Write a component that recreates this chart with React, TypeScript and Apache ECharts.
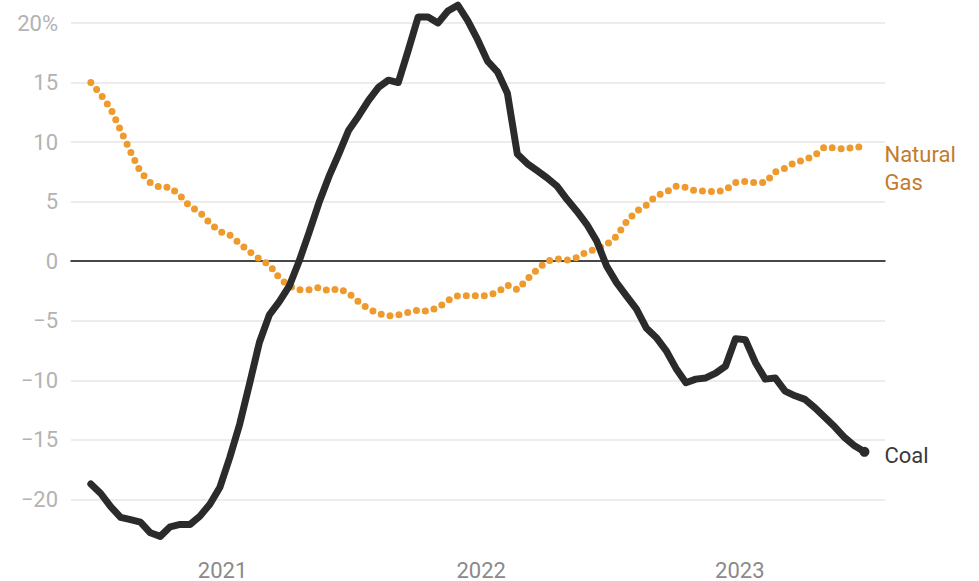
import React, { useEffect, useRef } from "react";
import * as echarts from "echarts";

// Biweekly observations starting 2020-06-29
const startDate = "2020-06-29";
const stepDays = 14;

const coalValues = [
  -18.7, -19.5, -20.6, -21.5, -21.7, -21.9, -22.8, -23.1, -22.3, -22.1,
  -22.1, -21.4, -20.4, -19.0, -16.5, -13.7, -10.3, -6.8, -4.5, -3.4,
  -2.1, 0.0, 2.4, 4.9, 7.1, 9.0, 11.0, 12.2, 13.5, 14.6,
  15.2, 15.0, 17.7, 20.5, 20.5, 20.0, 21.0, 21.5, 20.2, 18.6,
  16.8, 15.9, 14.1, 9.0, 8.2, 7.6, 7.0, 6.3, 5.2, 4.2,
  3.1, 1.7, -0.4, -1.8, -2.9, -4.0, -5.6, -6.4, -7.5, -9.0,
  -10.2, -9.9, -9.8, -9.4, -8.8, -6.5, -6.6, -8.5, -9.9, -9.8,
  -10.9, -11.3, -11.6, -12.3, -13.1, -13.9, -14.8, -15.5, -16.0,
];

const gasValues = [
  15.0, 14.0, 12.8, 11.0, 9.2, 7.5, 6.6, 6.2, 6.2, 5.5,
  4.6, 4.1, 3.2, 2.5, 2.2, 1.5, 0.8, 0.2, -0.3, -1.4,
  -2.1, -2.4, -2.4, -2.2, -2.5, -2.3, -2.7, -3.4, -4.0, -4.4,
  -4.6, -4.5, -4.3, -4.1, -4.2, -3.9, -3.3, -2.9, -2.9, -2.9,
  -2.9, -2.6, -2.0, -2.4, -1.5, -0.7, 0.0, 0.2, 0.1, 0.3,
  0.8, 1.0, 1.4, 2.1, 3.3, 4.2, 4.7, 5.5, 5.8, 6.3,
  6.2, 5.9, 5.9, 5.8, 6.0, 6.6, 6.7, 6.6, 6.6, 7.5,
  7.8, 8.3, 8.5, 8.9, 9.6, 9.5, 9.4, 9.6, 9.6,
];

const yearTicks = [2021, 2022, 2023];
const yTicks = [-20, -15, -10, -5, 0, 5, 10, 15, 20];

const FONT = "Roboto, 'Noto Sans', sans-serif";

function buildDates(n: number): number[] {
  const [y, m, d] = startDate.split("-").map(Number);
  const out: number[] = [];
  for (let i = 0; i < n; i++) {
    out.push(new Date(y, m - 1, d + i * stepDays).getTime());
  }
  return out;
}

export default function App() {
  const ref = useRef<HTMLDivElement>(null);

  useEffect(() => {
    if (!ref.current) return;
    const chart = echarts.init(ref.current, null, { renderer: "svg" });
    const dates = buildDates(coalValues.length);
    const coalData = coalValues.map((v, i) =>
      i === coalValues.length - 1
        ? { value: [dates[i], v], symbol: "circle", symbolSize: 10 }
        : { value: [dates[i], v] }
    );
    const gasData = gasValues.map((v, i) => [dates[i], v]);

    chart.setOption({
      animation: false,
      textStyle: { fontFamily: FONT },
      grid: { left: 71, right: 94, top: 23, bottom: 20, containLabel: false },
      xAxis: {
        type: "value",
        min: new Date(2020, 5, 1).getTime(),
        max: new Date(2023, 6, 25).getTime(),
        axisLine: { show: true, onZero: true, lineStyle: { color: "#111", width: 1.5 } },
        axisTick: { show: false },
        splitLine: { show: false },
        axisLabel: {
          customValues: yearTicks.map((y) => new Date(y, 0, 1).getTime()),
          formatter: (v: number) => String(new Date(v).getFullYear()),
          color: "#8a8a8a",
          fontSize: 22,
          fontFamily: FONT,
          margin: 0,
          hideOverlap: false,
        },
      },
      yAxis: {
        type: "value",
        min: -25,
        max: 20,
        interval: 5,
        axisLine: { show: false },
        axisTick: { show: false },
        splitLine: {
          show: true,
          showMinLine: false,
          lineStyle: { color: "#e6e6e6", width: 1.5 },
        },
        axisLabel: {
          customValues: yTicks,
          margin: 13,
          color: "#b3b3b3",
          fontSize: 22,
          fontFamily: FONT,
          formatter: (v: number) =>
            v === 20 ? "20%" : v < 0 ? "\u2212" + Math.abs(v) : String(v),
        },
      },
      series: [
        {
          name: "Natural Gas",
          type: "line",
          data: gasData,
          symbol: "none",
          showSymbol: false,
          clip: false,
          z: 3,
          lineStyle: {
            color: "#ee9a2d",
            width: 7,
            type: [0, 9],
            cap: "round",
            join: "round",
          },
          endLabel: {
            show: true,
            formatter: "Natural\nGas",
            color: "#c47b2d",
            fontSize: 22,
            fontFamily: FONT,
            lineHeight: 28,
            distance: 20,
            offset: [0, 22],
          },
        },
        {
          name: "Coal",
          type: "line",
          data: coalData,
          symbol: "none",
          showSymbol: true,
          clip: false,
          z: 4,
          itemStyle: { color: "#2b2b2b" },
          lineStyle: { color: "#2b2b2b", width: 7, cap: "round", join: "round" },
          endLabel: {
            show: true,
            formatter: "Coal",
            color: "#3a3a3a",
            fontSize: 22,
            fontFamily: FONT,
            distance: 20,
            offset: [0, 4],
          },
        },
      ],
    });
    return () => chart.dispose();
  }, []);

  return (
    <div
      ref={ref}
      style={{ position: "fixed", left: 0, top: 0, width: 979, height: 581, background: "#fff" }}
    />
  );
}
